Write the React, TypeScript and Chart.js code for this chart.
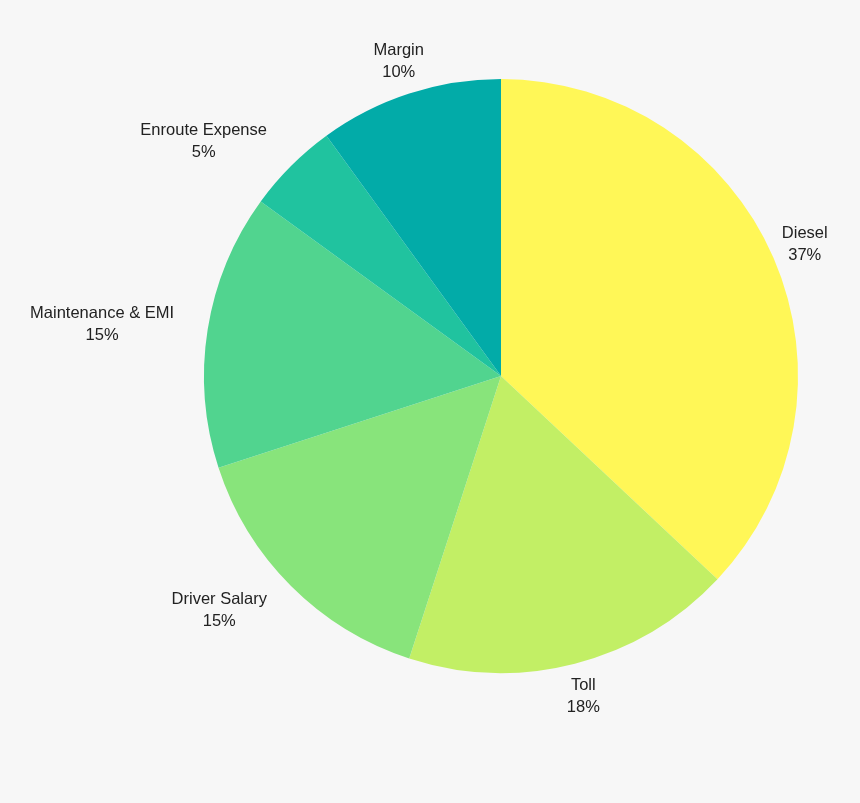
import { useEffect, useRef } from "react"
import { Chart, registerables } from "chart.js"

Chart.register(...registerables)

const categories = ["Diesel", "Toll", "Driver Salary", "Maintenance & EMI", "Enroute Expense", "Margin"]
const shares = [37, 18, 15, 15, 5, 10]
const sliceColors = ["#FFF757", "#C2EF65", "#88E47B", "#51D48F", "#20C39F", "#02ABA8"]

const outsideLabels = {
  id: "outsideLabels",
  afterDraw(chart: Chart) {
    const ctx = chart.ctx
    const meta = chart.getDatasetMeta(0)
    ctx.save()
    ctx.font = "16.5px 'Liberation Sans', Arial, sans-serif"
    ctx.fillStyle = "#222222"
    ctx.textBaseline = "middle"
    ctx.textAlign = "center"
    meta.data.forEach((arc: any, i: number) => {
      const { x, y, startAngle, endAngle, outerRadius } = arc.getProps(
        ["x", "y", "startAngle", "endAngle", "outerRadius"],
        true
      )
      const mid = (startAngle + endAngle) / 2
      const r = outerRadius + 34
      let lx = x + Math.cos(mid) * r
      const ly = y + Math.sin(mid) * r
      const name = categories[i]
      const pct = shares[i] + "%"
      // labels well to the left of the pie end at the anchor point
      if (lx < x - 150) {
        const w = Math.max(ctx.measureText(name).width, ctx.measureText(pct).width)
        lx -= w / 2
      }
      ctx.fillText(name, lx, ly - 11)
      ctx.fillText(pct, lx, ly + 11)
    })
    ctx.restore()
  },
}

export default function App() {
  const chartRef = useRef<HTMLCanvasElement>(null)
  const chartInstance = useRef<Chart | null>(null)

  useEffect(() => {
    document.body.style.margin = "0"
    if (chartRef.current) {
      if (chartInstance.current) {
        chartInstance.current.destroy()
      }
      const ctx = chartRef.current.getContext("2d")
      if (ctx) {
        chartInstance.current = new Chart(ctx, {
          type: "pie",
          data: {
            labels: categories,
            datasets: [
              {
                data: shares,
                backgroundColor: sliceColors,
                borderWidth: 0,
              },
            ],
          },
          options: {
            animation: false,
            responsive: false,
            layout: {
              padding: { top: 79, bottom: 130, left: 204, right: 62 },
            },
            plugins: {
              legend: { display: false },
              tooltip: { enabled: false },
            },
          },
          plugins: [outsideLabels],
        })
      }
    }

    return () => {
      if (chartInstance.current) {
        chartInstance.current.destroy()
        chartInstance.current = null
      }
    }
  }, [])

  return (
    <div style={{ width: 860, height: 803, background: "#f7f7f7" }}>
      <canvas ref={chartRef} width={860} height={803}></canvas>
    </div>
  )
}
